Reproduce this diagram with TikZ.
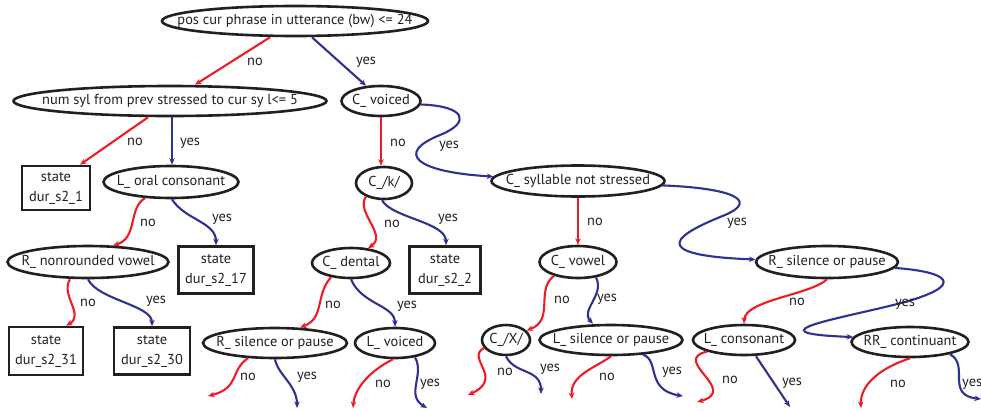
\documentclass[tikz,border=0pt]{standalone}
\usepackage{fontspec}
\setmainfont{PT Sans}
\usetikzlibrary{shapes.geometric}
\usetikzlibrary{arrows.meta}
\definecolor{nored}{RGB}{237,28,36}
\definecolor{yesblue}{RGB}{46,49,146}
\definecolor{ink}{RGB}{35,31,32}
\tikzset{
    every node/.append style={
        font=\fontsize{14.4}{20}\selectfont,
        text=ink
    },
    test/.style={
        ellipse,
        draw=ink,
        line width=2.6pt,
        inner sep=0pt,
        execute at begin node={\hbox to 0pt\bgroup\hss},
        execute at end node={\hss\egroup}
    },
    leaf/.style={
        rectangle,
        draw=ink,
        line width=2.6pt,
        inner sep=0pt,
        align=center
    },
    nobranch/.style={
        draw=nored,
        line width=2.1pt,
        -{Stealth[length=6.5pt,width=5.5pt]}
    },
    yesbranch/.style={
        draw=yesblue,
        line width=2.1pt,
        -{Stealth[length=6.5pt,width=5.5pt]}
    },
    answer/.style={
        inner sep=0pt
    }
}

\begin{document}
\begin{tikzpicture}[x=1pt, y=-1pt]
    \useasboundingbox (0,0) rectangle (981,410);

    % questions and leaves
    \node[test, minimum width=266pt, minimum height=30pt] (root) at (295,21) {pos cur phrase in utterance (bw) <= 24};
    \node[test, minimum width=313pt, minimum height=30pt] (numsyl) at (170,101) {num syl from prev stressed to cur sy l<= 5};
    \node[test, minimum width=79pt, minimum height=30pt] (cvoiced) at (381,101) {C\_ voiced};
    \node[leaf, minimum width=68pt, minimum height=44pt] (s1) at (56,188) {state\\dur\_s2\_1};
    \node[test, minimum width=135pt, minimum height=32pt] (loral) at (171,182) {L\_ oral consonant};
    \node[test, minimum width=56pt, minimum height=32pt] (ck) at (384,183) {C\_/k/};
    \node[test, minimum width=173pt, minimum height=31pt] (csyl) at (578,181) {C\_ syllable not stressed};
    \node[test, minimum width=161pt, minimum height=32pt] (rnround) at (88,262) {R\_ nonrounded vowel};
    \node[leaf, minimum width=75pt, minimum height=47pt] (s17) at (216,270) {state\\dur\_s2\_17};
    \node[test, minimum width=78pt, minimum height=30pt] (cdental) at (351,263) {C\_ dental};
    \node[leaf, minimum width=71pt, minimum height=47pt] (s2) at (445,270) {state\\dur\_s2\_2};
    \node[test, minimum width=77pt, minimum height=32pt] (cvowel) at (578,262) {C\_ vowel};
    \node[test, minimum width=142pt, minimum height=32pt] (rsilr) at (827,262) {R\_ silence or pause};
    \node[leaf, minimum width=74pt, minimum height=48pt] (s31) at (46,351) {state\\dur\_s2\_31};
    \node[leaf, minimum width=76pt, minimum height=47pt] (s30) at (152,351) {state\\dur\_s2\_30};
    \node[test, minimum width=144pt, minimum height=30pt] (rsilm) at (275,343) {R\_ silence or pause};
    \node[test, minimum width=80pt, minimum height=30pt] (lvoiced) at (395,343) {L\_ voiced};
    \node[test, minimum width=48pt, minimum height=30pt] (cx) at (506,340) {C\_/X/};
    \node[test, minimum width=143pt, minimum height=30pt] (lsil) at (611,340) {L\_ silence or pause};
    \node[test, minimum width=102pt, minimum height=30pt] (lcons) at (744,340) {L\_ consonant};
    \node[test, minimum width=117pt, minimum height=30pt] (rrcont) at (910,342) {RR\_ continuant};

    % loose ends
    \coordinate (rsmno) at (208,396);
    \coordinate (rsmyes) at (297,408);
    \coordinate (lvno) at (353,408);
    \coordinate (lvyes) at (427,408);
    \coordinate (cxno) at (468,395);
    \coordinate (cxyes) at (541,394);
    \coordinate (lspno) at (572,399);
    \coordinate (lspyes) at (683,396);
    \coordinate (lcno) at (697,402);
    \coordinate (lcyes) at (790,407);
    \coordinate (rrcno) at (861,408);
    \coordinate (rrcyes) at (981,399);

    % branches
    \draw[nobranch] ([xshift=-25pt]root.south) -- ([xshift=25pt]numsyl.north);
    \draw[yesbranch] ([xshift=17pt]root.south) -- ([xshift=-15pt,yshift=-1pt]cvoiced.north);
    \draw[nobranch] ([xshift=-22pt]numsyl.south) -- ([xshift=24pt]s1.north);
    \draw[yesbranch] ([xshift=2pt]numsyl.south) -- ([xshift=1pt]loral.north);
    \draw[nobranch] (cvoiced.south) -- ([xshift=-3pt]ck.north);
    \draw[yesbranch] (cvoiced.-5) .. controls (465,106) and (472,122) .. (440,135)
        .. controls (395,153) and (415,172) .. (csyl.177);
    \draw[nobranch] ([xshift=-26pt,yshift=1.2pt]loral.south) .. controls (128,208) and (138,238) .. ([xshift=25pt,yshift=-0.8pt]rnround.north);
    \draw[yesbranch] ([xshift=1pt]loral.south) .. controls (185,220) and (216,222) .. (s17.north);
    \draw[nobranch] ([xshift=-18pt,yshift=3.7pt]ck.south) .. controls (355,212) and (388,235) .. ([xshift=17pt,yshift=-1.5pt]cdental.north);
    \draw[yesbranch] ([xshift=-2pt]ck.south) .. controls (392,218) and (446,222) .. ([xshift=1pt]s2.north);
    \draw[nobranch] (csyl.south) -- (cvowel.north);
    \draw[yesbranch] (csyl.-3) .. controls (730,188) and (760,200) .. (725,215)
        .. controls (680,233) and (640,255) .. (rsilr.178);
    \draw[nobranch] ([xshift=-18pt]rnround.south) .. controls (60,295) and (85,315) .. ([xshift=20pt]s31.north);
    \draw[yesbranch] (rnround.south) .. controls (98,300) and (152,305) .. (s30.north);
    \draw[nobranch] ([xshift=-20pt,yshift=2.1pt]cdental.south) .. controls (315,295) and (325,318) .. ([xshift=25pt,yshift=-0.9pt]rsilm.north);
    \draw[yesbranch] (cdental.south) .. controls (362,305) and (395,305) .. (lvoiced.north);
    \draw[nobranch] ([xshift=-24pt,yshift=3.5pt]cvowel.south) .. controls (535,290) and (555,320) .. (cx.25);
    \draw[yesbranch] ([xshift=18pt,yshift=1.9pt]cvowel.south) .. controls (605,295) and (580,310) .. ([xshift=-18pt]lsil.north);
    \draw[nobranch] (rsilr.south) .. controls (810,295) and (745,300) .. (lcons.north);
    \draw[yesbranch] (rsilr.-5) .. controls (950,272) and (965,285) .. (905,302)
        .. controls (845,318) and (745,333) .. (rrcont.175);
    \draw[nobranch] ([xshift=-27pt,yshift=1.1pt]rsilm.south) .. controls (230,370) and (240,388) .. (rsmno);
    \draw[yesbranch] (rsilm.south) .. controls (278,375) and (297,385) .. (rsmyes);
    \draw[nobranch] ([xshift=-2pt]lvoiced.south) .. controls (375,368) and (355,385) .. (lvno);
    \draw[yesbranch] ([xshift=20pt,yshift=2pt]lvoiced.south) .. controls (425,375) and (405,395) .. (lvyes);
    \draw[nobranch] (cx.200) .. controls (465,358) and (505,378) .. (cxno);
    \draw[yesbranch] (cx.south) .. controls (515,375) and (541,368) .. (cxyes);
    \draw[nobranch] (lsil.south) .. controls (595,368) and (570,375) .. (lspno);
    \draw[yesbranch] ([xshift=32pt,yshift=1.6pt]lsil.south) .. controls (660,360) and (645,390) .. (lspyes);
    \draw[nobranch] ([xshift=-37pt,yshift=4.7pt]lcons.south) .. controls (670,360) and (740,390) .. (lcno);
    \draw[yesbranch] ([xshift=12pt]lcons.south) -- (lcyes);
    \draw[nobranch] (rrcont.south) .. controls (880,368) and (860,385) .. (rrcno);
    \draw[yesbranch] ([xshift=40pt,yshift=4pt]rrcont.south) .. controls (970,365) and (945,395) .. (rrcyes);

    % answers
    \node[answer] (rootno) at (255,62) {no};
    \node[answer] (rootyes) at (366,62) {yes};
    \node[answer] (numno) at (135,142) {no};
    \node[answer] (numyes) at (190,143) {yes};
    \node[answer] (cvno) at (398,143) {no};
    \node[answer] (cvyes) at (449,146) {yes};
    \node[answer] (lono) at (148,223) {no};
    \node[answer] (loyes) at (222,219) {yes};
    \node[answer] (ckno) at (392,224) {no};
    \node[answer] (ckyes) at (448,219) {yes};
    \node[answer] (csno) at (595,222) {no};
    \node[answer] (csyes) at (737,223) {yes};
    \node[answer] (rnrno) at (88,303) {no};
    \node[answer] (rnryes) at (156,301) {yes};
    \node[answer] (cdno) at (333,305) {no};
    \node[answer] (cdyes) at (407,306) {yes};
    \node[answer] (cvwno) at (562,300) {no};
    \node[answer] (cvwyes) at (607,299) {yes};
    \node[answer] (rspno) at (797,302) {no};
    \node[answer] (rspyes) at (905,304) {yes};
    \node[answer] (rsmnol) at (248,377) {no};
    \node[answer] (rsmyesl) at (307,377) {yes};
    \node[answer] (lvnol) at (383,384) {no};
    \node[answer] (lvyesl) at (430,384) {yes};
    \node[answer] (cxnol) at (505,372) {no};
    \node[answer] (cxyesl) at (550,369) {yes};
    \node[answer] (lspnol) at (607,377) {no};
    \node[answer] (lspyesl) at (672,372) {yes};
    \node[answer] (lcnol) at (730,380) {no};
    \node[answer] (lcyesl) at (792,383) {yes};
    \node[answer] (rrcnol) at (898,384) {no};
    \node[answer, anchor=west] (rrcyesl) at (962,384) {yes};
\end{tikzpicture}
\end{document}
